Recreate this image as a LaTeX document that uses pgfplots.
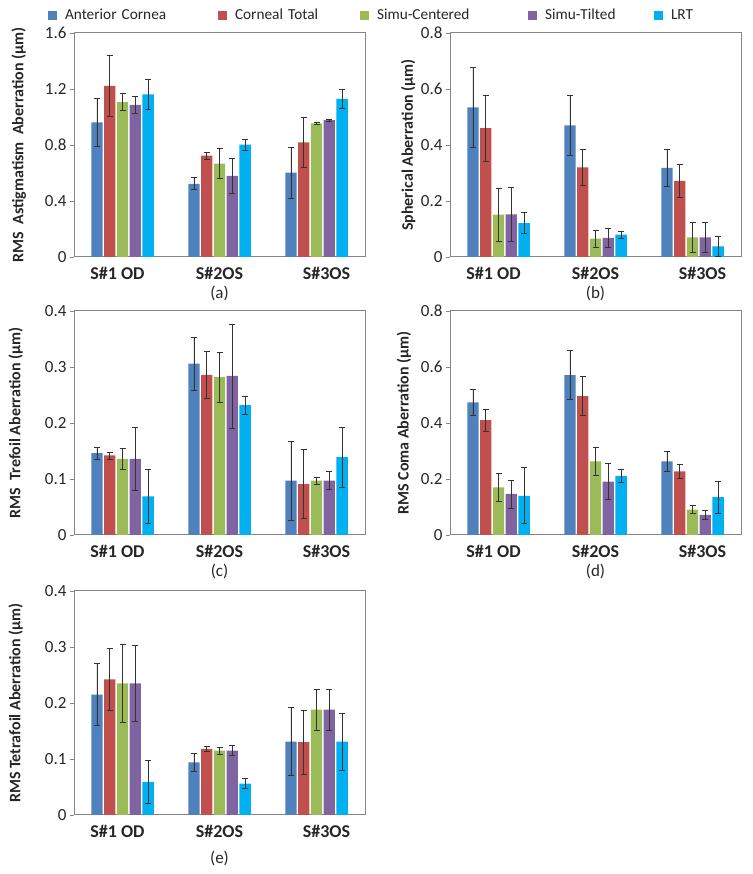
\documentclass[border=0pt]{standalone}
\usepackage{pgfplots}
\pgfplotsset{compat=1.18}
\usepackage{pgfplotstable}
\usepackage{fontspec}
\setmainfont{Carlito}
\definecolor{cAC}{HTML}{4F81BD}
\definecolor{cCT}{HTML}{C0504D}
\definecolor{cSC}{HTML}{9BBB59}
\definecolor{cST}{HTML}{8064A2}
\definecolor{cLRT}{HTML}{00B0F0}
\definecolor{axgray}{RGB}{134,134,134}
\definecolor{txt}{RGB}{38,38,38}

% x: category index; columns: value and error for each series
\pgfplotstableread{
x ac ace ct cte sc sce st ste lrt lrte
0 0.962 0.170 1.223 0.215 1.106 0.060 1.087 0.060 1.161 0.105
1 0.523 0.043 0.724 0.024 0.666 0.107 0.580 0.122 0.802 0.038
2 0.602 0.180 0.819 0.177 0.955 0.007 0.977 0.009 1.130 0.069
}\dataA
\pgfplotstableread{
x ac ace ct cte sc sce st ste lrt lrte
0 0.534 0.143 0.460 0.117 0.151 0.096 0.152 0.097 0.121 0.038
1 0.470 0.107 0.320 0.063 0.066 0.030 0.068 0.033 0.080 0.013
2 0.318 0.067 0.272 0.058 0.070 0.055 0.070 0.055 0.038 0.037
}\dataB
\pgfplotstableread{
x ac ace ct cte sc sce st ste lrt lrte
0 0.146 0.011 0.142 0.006 0.136 0.019 0.136 0.057 0.069 0.049
1 0.306 0.047 0.286 0.042 0.282 0.045 0.284 0.093 0.232 0.016
2 0.097 0.070 0.091 0.062 0.097 0.006 0.097 0.016 0.139 0.054
}\dataC
\pgfplotstableread{
x ac ace ct cte sc sce st ste lrt lrte
0 0.474 0.048 0.410 0.038 0.170 0.050 0.147 0.050 0.140 0.100
1 0.571 0.087 0.496 0.070 0.263 0.051 0.191 0.065 0.211 0.022
2 0.263 0.035 0.227 0.024 0.091 0.015 0.072 0.016 0.135 0.056
}\dataD
\pgfplotstableread{
x ac ace ct cte sc sce st ste lrt lrte
0 0.215 0.055 0.242 0.055 0.235 0.070 0.235 0.068 0.059 0.038
1 0.094 0.016 0.118 0.004 0.115 0.006 0.115 0.009 0.056 0.009
2 0.131 0.061 0.130 0.057 0.188 0.036 0.188 0.036 0.131 0.051
}\dataE

\pgfplotsset{
  sq/.style={legend image code/.code={\fill[##1] (0pt,-4.5pt) rectangle (9pt,4.5pt); \path (17pt,0pt);}},
  eb/.style={draw=none, sq,
    error bars/y dir=both, error bars/y explicit,
    error bars/error bar style={line width=0.6pt, black!80},
    error bars/error mark options={rotate=90, mark size=3pt, line width=0.6pt, black!80}},
  ylabx/.style={every axis y label/.style={at={(axis description cs:#1,0.5)},rotate=90,anchor=center,
    font=\fontsize{16}{19}\selectfont\bfseries, text=txt}},
  panel/.style={
    scale only axis, width=291pt, height=224pt,
    anchor=south west,
    ybar=1.5pt, bar width=11.3pt,
    xmin=-0.5, xmax=2.5, ymin=0,
    xtick={0,1,2},
    xticklabels={S\#1 OD\hspace*{10pt}, S\#2OS, \hspace*{20pt}S\#3OS},
    xtick style={draw=none},
    ytick pos=left, tick align=outside, major tick length=4pt,
    ytick style={axgray, line width=0.8pt},
    axis line style={axgray, line width=1pt},
    yticklabel style={font=\fontsize{17}{20}\selectfont, text=txt,
      /pgf/number format/fixed, /pgf/number format/precision=1},
    /pgf/number format/assume math mode=true,
    xticklabel style={font=\fontsize{18}{21}\selectfont\bfseries, text=txt, yshift=-3pt},
    clip=false,
  },
}
\newcommand\fivebars[1]{%
  \addplot[fill=cAC, eb] table[x=x, y=ac, y error=ace] {#1};
  \addplot[fill=cCT, eb] table[x=x, y=ct, y error=cte] {#1};
  \addplot[fill=cSC, eb] table[x=x, y=sc, y error=sce] {#1};
  \addplot[fill=cST, eb] table[x=x, y=st, y error=ste] {#1};
  \addplot[fill=cLRT, eb] table[x=x, y=lrt, y error=lrte] {#1};
}
\newcommand\plab[2]{\node[font=\fontsize{17}{20}\selectfont, text=txt] at (axis description cs:0.5,#1) {#2};}

\begin{document}
\begin{tikzpicture}
\path[use as bounding box] (0pt,0pt) rectangle (752pt,874pt);

% (a)
\begin{axis}[panel, at={(74pt,617pt)}, ymax=1.6, ytick={0,0.4,0.8,1.2,1.6},
  ylabx=-0.19, ylabel={RMS\ \ Astigmatism\ \ Aberration (μm)},
  legend columns=5, legend cell align=left,
  legend style={at={(axis description cs:-0.0893,1.080)}, anchor=west,
    draw=none, fill=none, inner sep=0pt, outer sep=0pt, column sep=0pt,
    nodes={inner sep=0pt, outer sep=0pt},
    font=\fontsize{15.3}{18}\selectfont, text=txt,
    /tikz/column 2/.style={nodes={text width=153pt}},
    /tikz/column 4/.style={nodes={text width=125pt}},
    /tikz/column 6/.style={nodes={text width=151pt}},
    /tikz/column 8/.style={nodes={text width=109pt}},
    /tikz/column 10/.style={nodes={text width=40pt}}}]
\fivebars{\dataA}
\legend{Anterior Cornea, Corneal Total, Simu-Centered, Simu-Tilted, LRT}
\plab{-0.161}{(a)}
\end{axis}

% (b)
\begin{axis}[panel, at={(450pt,617pt)}, ymax=0.8, ytick={0,0.2,0.4,0.6,0.8},
  ylabx=-0.144, ylabel={Spherical Aberration (μm)}]
\fivebars{\dataB}
\plab{-0.161}{(b)}
\end{axis}

% (c)
\begin{axis}[panel, at={(74pt,339pt)}, ymax=0.4, ytick={0,0.1,0.2,0.3,0.4},
  ylabx=-0.2, ylabel={RMS\ \ Trefoil Aberration (μm)}]
\fivebars{\dataC}
\plab{-0.165}{(c)}
\end{axis}

% (d)
\begin{axis}[panel, at={(450pt,339pt)}, ymax=0.8, ytick={0,0.2,0.4,0.6,0.8},
  ylabx=-0.158, ylabel={RMS Coma Aberration (μm)}]
\fivebars{\dataD}
\plab{-0.165}{(d)}
\end{axis}

% (e)
\begin{axis}[panel, at={(74pt,59pt)}, ymax=0.4, ytick={0,0.1,0.2,0.3,0.4},
  ylabx=-0.2, ylabel={RMS Tetrafoil Aberration (μm)}]
\fivebars{\dataE}
\plab{-0.192}{(e)}
\end{axis}
\end{tikzpicture}
\end{document}
